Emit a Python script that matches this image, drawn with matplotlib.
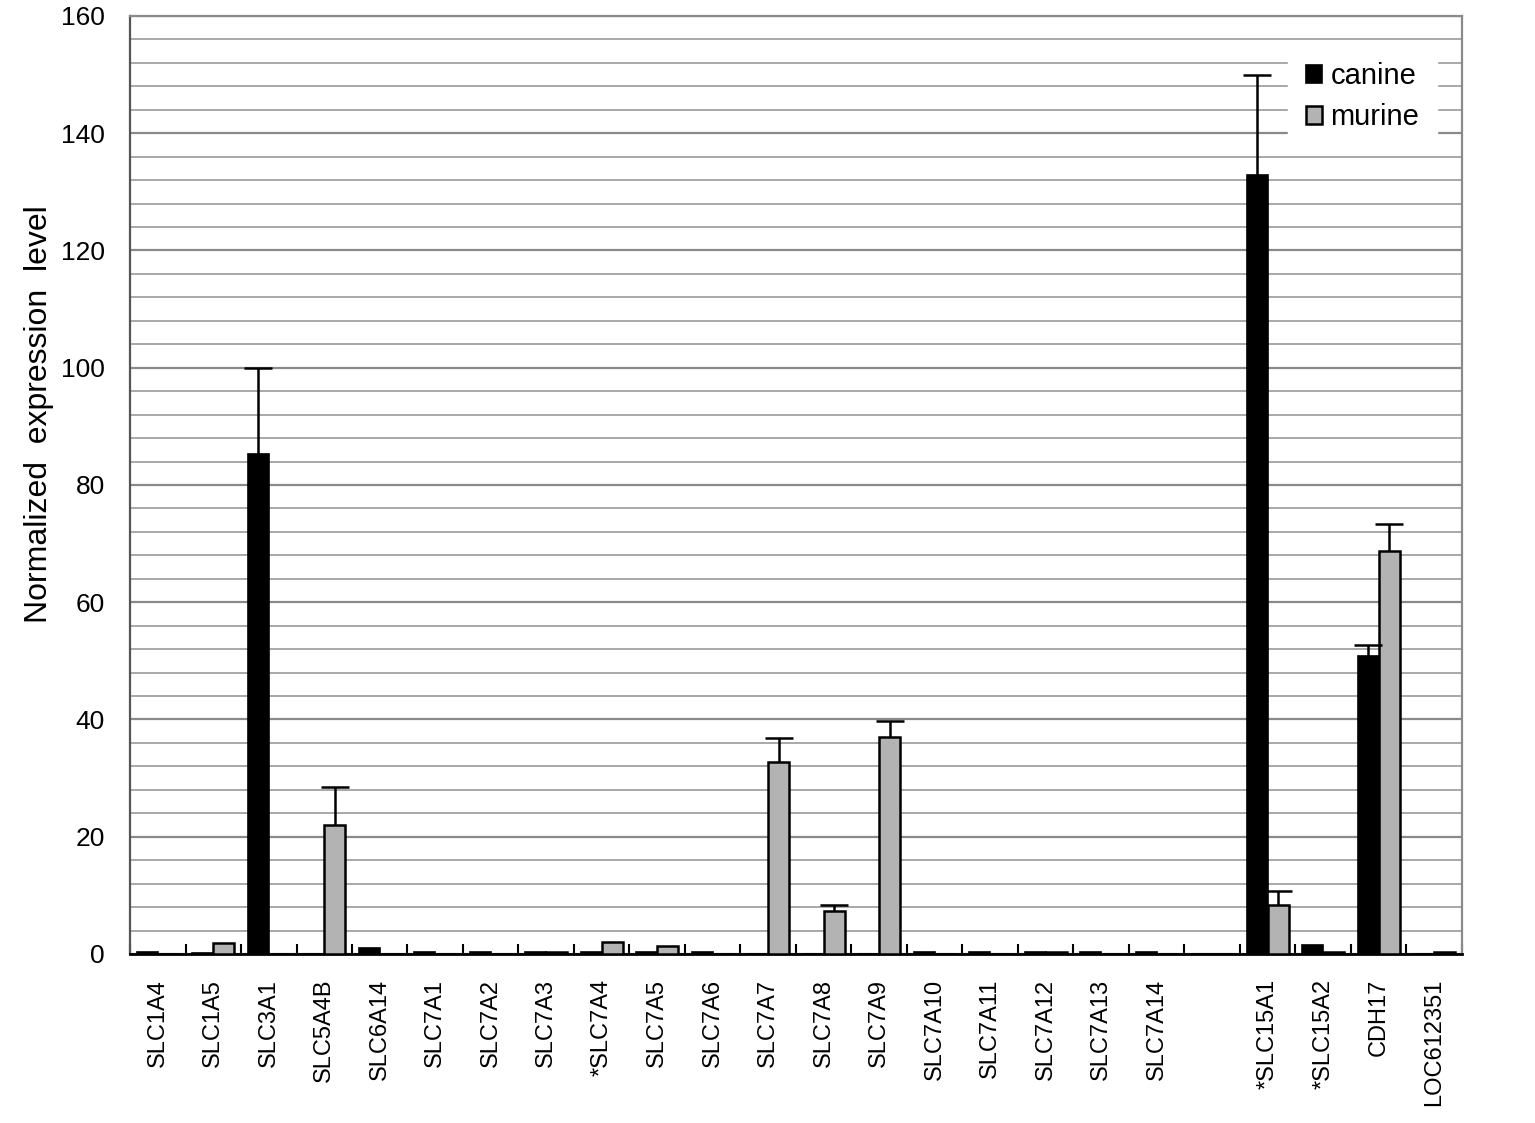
import numpy as np
import matplotlib
matplotlib.use('Agg')
import matplotlib.pyplot as plt
from matplotlib.ticker import MultipleLocator

genes = ['SLC1A4', 'SLC1A5', 'SLC3A1', 'SLC5A4B', 'SLC6A14', 'SLC7A1', 'SLC7A2',
         'SLC7A3', '*SLC7A4', 'SLC7A5', 'SLC7A6', 'SLC7A7', 'SLC7A8', 'SLC7A9',
         'SLC7A10', 'SLC7A11', 'SLC7A12', 'SLC7A13', 'SLC7A14', '',
         '*SLC15A1', '*SLC15A2', 'CDH17', 'LOC612351']

canine = [0.3, 0.1, 85.2, 0.0, 1.0, 0.3, 0.3, 0.3, 0.3, 0.3, 0.3, 0.0, 0.0, 0.0,
          0.3, 0.3, 0.3, 0.3, 0.3, 0.0, 132.8, 1.5, 50.8, 0.0]
canine_err = [0, 0, 14.8, 0, 0, 0, 0, 0, 0, 0, 0, 0, 0, 0,
              0, 0, 0, 0, 0, 0, 17.2, 0, 1.9, 0]

murine = [0.0, 1.8, 0.0, 22.0, 0.0, 0.0, 0.0, 0.3, 2.0, 1.4, 0.0, 32.8, 7.3, 37.0,
          0.0, 0.0, 0.3, 0.0, 0.0, 0.0, 8.4, 0.3, 68.8, 0.3]
murine_err = [0, 0, 0, 6.5, 0, 0, 0, 0, 0, 0, 0, 4.1, 1.1, 2.8,
              0, 0, 0, 0, 0, 0, 2.4, 0, 4.5, 0]

plt.rcParams['font.family'] = ['Liberation Sans', 'DejaVu Sans']

fig = plt.figure(figsize=(15.35, 11.23), dpi=100)
ax = fig.add_axes([0.0847, 0.1505, 0.8677, 0.8353])

index = np.arange(len(genes))
bar_width = 0.38

ax.bar(index - bar_width/2, canine, bar_width, color='black',
       edgecolor='black', linewidth=1.2, label='canine', zorder=3)
ax.bar(index + bar_width/2, murine, bar_width, color='#b3b3b3',
       edgecolor='black', linewidth=1.8, label='murine', zorder=3)


def upper_err(x, y, err):
    # only the upper half of the error bar, cap on top only
    x = np.array(x)
    y = np.array(y)
    err = np.array(err)
    m = err > 0
    _, caps, _ = ax.errorbar(x[m], y[m], yerr=[np.zeros(m.sum()), err[m]],
                             fmt='none', ecolor='black', elinewidth=1.8,
                             capsize=10, capthick=1.8, zorder=4)
    caps[0].set_visible(False)


upper_err(index - bar_width/2, canine, canine_err)
upper_err(index + bar_width/2, murine, murine_err)

ax.set_xlim(-0.5, len(genes) - 0.5)
ax.set_ylim(0, 160)

ax.yaxis.set_major_locator(MultipleLocator(20))
ax.yaxis.set_minor_locator(MultipleLocator(4))
ax.grid(axis='y', which='major', color='#8a8a8a', linewidth=1.6, zorder=0)
ax.grid(axis='y', which='minor', color='#a8a8a8', linewidth=1.4, zorder=0)
ax.set_axisbelow(True)

ax.set_xticks(index)
ax.set_xticklabels(genes, rotation=90, fontsize=17)
ax.set_xticks(np.arange(len(genes) + 1) - 0.5, minor=True)
ax.tick_params(axis='x', which='major', length=0, pad=18)
ax.tick_params(axis='x', which='minor', direction='in', length=7, width=1.5)
ax.tick_params(axis='y', which='both', length=0, pad=18, labelsize=19)

for s in ['top', 'right']:
    ax.spines[s].set_color('#8a8a8a')
    ax.spines[s].set_linewidth(1.6)
ax.spines['left'].set_color('#555555')
ax.spines['left'].set_linewidth(1.6)
ax.spines['bottom'].set_color('black')
ax.spines['bottom'].set_linewidth(2)

ax.set_ylabel('Normalized  expression  level', fontsize=23)
ax.yaxis.set_label_coords(-0.057, 0.575)

leg = ax.legend(loc='upper right', bbox_to_anchor=(0.992, 0.985), fontsize=21,
                handlelength=0.55, handleheight=0.55, handletextpad=0.3,
                labelspacing=0.45, borderpad=0.6, fancybox=False)
leg.get_frame().set_edgecolor('white')
leg.get_frame().set_facecolor('white')
leg.get_frame().set_alpha(1)

plt.savefig('out.png', dpi=100)
